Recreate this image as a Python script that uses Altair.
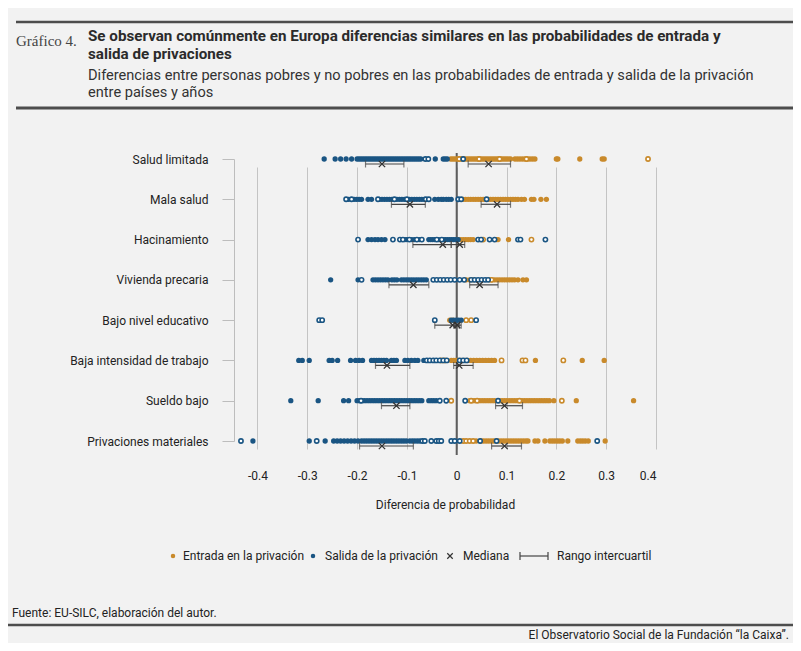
import altair as alt
import pandas as pd

# colores
NARANJA = '#c98a2b'
AZUL = '#1a5583'
FONDO = '#f2f2f2'
GRIS_OSCURO = '#4d4d4d'
FUENTE = 'Roboto'
FUENTE_TITULO = 'Roboto'

FILAS = ['Salud limitada', 'Mala salud', 'Hacinamiento', 'Vivienda precaria',
         'Bajo nivel educativo', 'Baja intensidad de trabajo', 'Sueldo bajo',
         'Privaciones materiales']

# Salida de la privación (puntos llenos = significativos, abiertos = no)
SALIDA_LLENO = {
    'Salud limitada': [-0.266, -0.244, -0.233, -0.222, -0.211, -0.200, -0.196, -0.192, -0.188, -0.184,
                       -0.180, -0.176, -0.172, -0.168, -0.164, -0.160, -0.156, -0.152, -0.148, -0.144,
                       -0.140, -0.136, -0.132, -0.128, -0.124, -0.120, -0.116, -0.112, -0.108, -0.104,
                       -0.100, -0.096, -0.092, -0.088, -0.084, -0.080, -0.076, -0.072, -0.043, -0.027,
                       -0.023, -0.019],
    'Mala salud': [-0.217, -0.206, -0.201, -0.196, -0.191, -0.178, -0.171, -0.155, -0.150, -0.145,
                   -0.140, -0.135, -0.130, -0.120, -0.115, -0.110, -0.105, -0.095, -0.090, -0.085,
                   -0.080, -0.075, -0.070, -0.065, -0.044, -0.037, -0.031, -0.027, -0.021, -0.016,
                   -0.011],
    'Hacinamiento': [-0.178, -0.171, -0.164, -0.158, -0.151, -0.144, -0.104, -0.100, -0.090, -0.085,
                     -0.075, -0.056, -0.052, -0.048, -0.044, -0.036, -0.026, -0.022, -0.018, -0.014,
                     -0.010, -0.006, -0.002, 0.003],
    'Vivienda precaria': [-0.253, -0.198, -0.168, -0.163, -0.158, -0.153, -0.148, -0.143, -0.138,
                          -0.130, -0.125, -0.120, -0.111, -0.106, -0.101, -0.096, -0.091, -0.086,
                          -0.081, -0.076, -0.071, -0.066, -0.061],
    'Bajo nivel educativo': [-0.011, -0.006, -0.001, 0.004, 0.009],
    'Baja intensidad de trabajo': [-0.317, -0.310, -0.296, -0.256, -0.250, -0.239, -0.213, -0.203,
                                   -0.196, -0.189, -0.171, -0.166, -0.161, -0.156, -0.151, -0.146,
                                   -0.141, -0.131, -0.126, -0.121, -0.104, -0.098, -0.091, -0.084,
                                   -0.078, -0.066],
    'Sueldo bajo': [-0.333, -0.278, -0.227, -0.217, -0.200, -0.195, -0.190, -0.185, -0.180, -0.175,
                    -0.170, -0.165, -0.160, -0.155, -0.150, -0.145, -0.140, -0.135, -0.130, -0.125,
                    -0.120, -0.115, -0.110, -0.105, -0.100, -0.095, -0.090, -0.085, -0.080, -0.075,
                    -0.070, -0.056, -0.051, -0.046, -0.041],
    'Privaciones materiales': [-0.409, -0.296, -0.264, -0.247, -0.240, -0.233, -0.226, -0.219, -0.212,
                               -0.205, -0.198, -0.191, -0.186, -0.181, -0.176, -0.171, -0.166, -0.161,
                               -0.156, -0.151, -0.146, -0.141, -0.136, -0.131, -0.126, -0.121, -0.116,
                               -0.111, -0.106, -0.101, -0.094, -0.089, -0.084, -0.079, -0.074],
}
SALIDA_ABIERTO = {
    'Salud limitada': [-0.063, -0.057, 0.013],
    'Mala salud': [-0.222, -0.211, -0.158, -0.125, -0.100, -0.062, -0.056, 0.003, 0.009, 0.060],
    'Hacinamiento': [-0.198, -0.128, -0.114, -0.108, -0.095, -0.080, -0.070, -0.040, -0.030, 0.043,
                     0.049, 0.066, 0.076, 0.123, 0.128, 0.178],
    'Vivienda precaria': [-0.191, -0.047, -0.040, -0.033, -0.026, -0.019, -0.012, -0.004, 0.006, 0.015,
                          0.029, 0.036, 0.043, 0.050, 0.057, 0.063],
    'Bajo nivel educativo': [-0.276, -0.270, -0.044, 0.039],
    'Baja intensidad de trabajo': [-0.060, -0.054, -0.047, -0.041, -0.034, -0.027, -0.020, 0.006,
                                   0.013, 0.020],
    'Sueldo bajo': [-0.192, -0.034, -0.021, 0.017, 0.083],
    'Privaciones materiales': [-0.433, -0.281, -0.069, -0.064, -0.051, -0.041, -0.036, -0.031, -0.011,
                               -0.004, 0.006, 0.047, 0.080, 0.282],
}

# Entrada en la privación
ENTRADA_LLENO = {
    'Salud limitada': [-0.012, -0.008, -0.004, 0.000, 0.004, 0.008, 0.012, 0.016, 0.020, 0.024, 0.028,
                       0.032, 0.036, 0.040, 0.044, 0.048, 0.052, 0.056, 0.060, 0.064, 0.068, 0.072,
                       0.076, 0.080, 0.084, 0.088, 0.092, 0.096, 0.100, 0.104, 0.108, 0.117, 0.122,
                       0.127, 0.132, 0.137, 0.142, 0.147, 0.152, 0.157, 0.200, 0.203, 0.247, 0.292,
                       0.296],
    'Mala salud': [0.013, 0.018, 0.023, 0.028, 0.033, 0.038, 0.043, 0.048, 0.053, 0.058, 0.063, 0.068,
                   0.073, 0.078, 0.083, 0.088, 0.093, 0.098, 0.103, 0.108, 0.113, 0.118, 0.123, 0.130,
                   0.136, 0.150, 0.155, 0.169, 0.180],
    'Hacinamiento': [0.003, 0.008, 0.013, 0.018, 0.023, 0.028, 0.033, 0.080, 0.083, 0.104],
    'Vivienda precaria': [0.019, 0.026, 0.033, 0.066, 0.071, 0.076, 0.081, 0.086, 0.091, 0.096, 0.101,
                          0.106, 0.111, 0.116, 0.123, 0.133, 0.140],
    'Bajo nivel educativo': [-0.014, -0.008],
    'Baja intensidad de trabajo': [-0.011, -0.006, -0.001, 0.004, 0.010, 0.016, 0.022, 0.028, 0.034,
                                   0.040, 0.046, 0.052, 0.058, 0.064, 0.070, 0.076, 0.158, 0.252,
                                   0.296],
    'Sueldo bajo': [0.026, 0.031, 0.036, 0.046, 0.051, 0.056, 0.061, 0.066, 0.071, 0.076, 0.086, 0.091,
                    0.096, 0.101, 0.106, 0.111, 0.116, 0.121, 0.131, 0.136, 0.141, 0.146, 0.151, 0.156,
                    0.161, 0.166, 0.171, 0.176, 0.181, 0.186, 0.195, 0.240, 0.355],
    'Privaciones materiales': [0.039, 0.049, 0.054, 0.059, 0.064, 0.069, 0.074, 0.079, 0.084, 0.089,
                               0.094, 0.099, 0.104, 0.109, 0.114, 0.119, 0.124, 0.129, 0.134, 0.139,
                               0.143, 0.157, 0.163, 0.177, 0.187, 0.192, 0.197, 0.202, 0.207, 0.212,
                               0.223, 0.243, 0.248, 0.253, 0.258, 0.264, 0.298],
}
ENTRADA_ABIERTO = {
    'Salud limitada': [0.005, 0.045, 0.086, 0.140, 0.384],
    'Mala salud': [],
    'Hacinamiento': [0.053, 0.150],
    'Vivienda precaria': [0.070],
    'Bajo nivel educativo': [0.019, 0.029],
    'Baja intensidad de trabajo': [-0.031, -0.024, 0.090, 0.132, 0.138, 0.214],
    'Sueldo bajo': [-0.011, 0.029, 0.041, 0.126, 0.211],
    'Privaciones materiales': [0.013, 0.019, 0.026, 0.033],
}

# mediana y rango intercuartil (en el orden de FILAS)
SALIDA_MEDIANA = [-0.150, -0.094, -0.028, -0.087, -0.008, -0.140, -0.121, -0.150]
SALIDA_Q1 = [-0.183, -0.131, -0.088, -0.136, -0.044, -0.163, -0.151, -0.195]
SALIDA_Q3 = [-0.106, -0.063, -0.011, -0.056, 0.005, -0.094, -0.094, -0.087]
ENTRADA_MEDIANA = [0.064, 0.081, 0.006, 0.046, 0.001, 0.005, 0.096, 0.096]
ENTRADA_Q1 = [0.023, 0.049, -0.011, 0.026, -0.006, -0.006, 0.078, 0.070]
ENTRADA_Q3 = [0.108, 0.108, 0.016, 0.083, 0.009, 0.033, 0.132, 0.130]

TICKS = [-0.4, -0.3, -0.2, -0.1, 0, 0.1, 0.2, 0.3, 0.4]

TITULO = ['Se observan comúnmente en Europa diferencias similares en las probabilidades de entrada y',
          'salida de privaciones']
SUBTITULO = ['Diferencias entre personas pobres y no pobres en las probabilidades de entrada y salida de la privación',
             'entre países y años']

# --- tablas ---
registros = []
for serie, lleno, abierto in [('Entrada', ENTRADA_LLENO, ENTRADA_ABIERTO),
                              ('Salida', SALIDA_LLENO, SALIDA_ABIERTO)]:
    for fila in FILAS:
        for v in lleno[fila]:
            registros.append({'fila': fila, 'serie': serie, 'valor': v, 'abierto': False})
        for v in abierto[fila]:
            registros.append({'fila': fila, 'serie': serie, 'valor': v, 'abierto': True})
puntos = pd.DataFrame(registros)

resumen = pd.concat([
    pd.DataFrame({'fila': FILAS, 'serie': 'Salida', 'mediana': SALIDA_MEDIANA,
                  'q1': SALIDA_Q1, 'q3': SALIDA_Q3}),
    pd.DataFrame({'fila': FILAS, 'serie': 'Entrada', 'mediana': ENTRADA_MEDIANA,
                  'q1': ENTRADA_Q1, 'q3': ENTRADA_Q3}),
])

PW, PH = 422, 302
x_scale = alt.Scale(domain=[-0.447, 0.4], nice=False, zero=False)
y_scale = alt.Scale(type='point', domain=FILAS, range=[6, 288], padding=0)

X = alt.X('valor:Q', scale=x_scale, axis=alt.Axis(
    values=TICKS, grid=True, gridColor='#c4c4c4', gridWidth=1, domain=False, ticks=False,
    labelPadding=15, labelFontSize=12, labelFont=FUENTE, labelColor='#222',
    labelExpr="(datum.value < -0.0001 ? '-' : '') + (abs(datum.value) < 0.0001 ? '0' : format(abs(datum.value), '.1f'))",
    title='Diferencia de probabilidad', titleFont=FUENTE, titleFontSize=12,
    titleFontWeight='normal', titleColor='#222', titlePadding=18))
Y = alt.Y('fila:N', scale=y_scale, sort=FILAS, axis=alt.Axis(
    title=None, domain=True, domainColor='#bdbdbd', ticks=True, tickColor='#bdbdbd',
    tickSize=12, labelPadding=14, labelFontSize=12, labelFont=FUENTE, labelColor='#222',
    grid=False))

base = alt.Chart(puntos)
cero = alt.Chart(alt.Data(values=[{'valor': 0}])).mark_rule(
    color='#5e5e5e', strokeWidth=2).encode(x=alt.X('valor:Q', scale=x_scale))


def capa_puntos(serie, color, abierto):
    filtro = f"datum.serie == '{serie}' && datum.abierto == {str(abierto).lower()}"
    if abierto:
        marca = base.mark_point(shape='circle', filled=False, fill='white', fillOpacity=1,
                                stroke=color, strokeWidth=1.6, size=18, opacity=1)
    else:
        marca = base.mark_point(shape='circle', filled=True, color=color, size=28, opacity=1)
    return marca.encode(x=X, y=Y).transform_filter(filtro)


def capa_resumen(serie):
    r = alt.Chart(resumen).transform_filter(f"datum.serie == '{serie}'")
    yy = alt.Y('fila:N', scale=y_scale, sort=FILAS)
    linea = r.mark_rule(color='#444', strokeWidth=1.2, yOffset=5).encode(
        x=alt.X('q1:Q', scale=x_scale), x2='q3:Q', y=yy)
    tope1 = r.mark_tick(color='#444', thickness=1.2, size=7, yOffset=5).encode(
        x=alt.X('q1:Q', scale=x_scale), y=yy)
    tope3 = r.mark_tick(color='#444', thickness=1.2, size=7, yOffset=5).encode(
        x=alt.X('q3:Q', scale=x_scale), y=yy)
    med = r.mark_point(shape='M-1,-1L1,1M-1,1L1,-1', filled=False, color='#333', strokeWidth=1.3,
                       size=40, yOffset=5, opacity=1).encode(
        x=alt.X('mediana:Q', scale=x_scale), y=yy)
    return [linea, tope1, tope3, med]


UNO = alt.Data(values=[{}])


def texto(t, x, y, size=12, font=FUENTE, weight='normal', color='#222', align='left',
          baseline='middle', alto=16):
    return alt.Chart(UNO).mark_text(text=t, fontSize=size, font=font, fontWeight=weight,
                                    color=color, align=align, baseline=baseline,
                                    lineHeight=alto).encode(
        x=alt.value(x), y=alt.value(y))


def linea(x1, x2, y, w=2.5, color=GRIS_OSCURO):
    return alt.Chart(UNO).mark_rule(color=color, strokeWidth=w).encode(
        x=alt.value(x1), x2=alt.value(x2), y=alt.value(y))


def vlinea(x, y1, y2, w=1.2, color='#444'):
    return alt.Chart(UNO).mark_rule(color=color, strokeWidth=w).encode(
        x=alt.value(x), y=alt.value(y1), y2=alt.value(y2))


cabecera = [
    linea(-218, 559, -131, 2.5),
    texto('Gráfico 4.', -218, -112, 15, 'Liberation Serif', 'normal', '#444'),
    texto(TITULO, -146, -124, 15.2, FUENTE_TITULO, 'bold', '#2b2b2b', baseline='top', alto=18),
    texto(SUBTITULO, -146, -85, 14.6, FUENTE_TITULO, 'normal', '#333', baseline='top', alto=17),
    linea(-218, 559, -45, 3),
]

leyenda = [
    alt.Chart(UNO).mark_point(shape='circle', filled=True, color=NARANJA, size=20, opacity=1).encode(
        x=alt.value(-61), y=alt.value(403)),
    texto('Entrada en la privación', -51, 403),
    alt.Chart(UNO).mark_point(shape='circle', filled=True, color=AZUL, size=20, opacity=1).encode(
        x=alt.value(79), y=alt.value(403)),
    texto('Salida de la privación', 91, 403),
    alt.Chart(UNO).mark_point(shape='M-1,-1L1,1M-1,1L1,-1', filled=False, color='#333',
                              strokeWidth=1.2, size=30, opacity=1).encode(
        x=alt.value(216), y=alt.value(403)),
    texto('Mediana', 229, 403),
    linea(286, 314, 403, 1.2, '#444'),
    vlinea(286, 399, 407),
    vlinea(314, 399, 407),
    texto('Rango intercuartil', 323, 403),
]

pie = [
    texto('Fuente: EU-SILC, elaboración del autor.', -222, 460, 12, FUENTE, 'normal', '#222'),
    linea(-226, 559, 472, 2.5),
    texto('El Observatorio Social de la Fundación “la Caixa”.', 555, 482, 12, FUENTE,
          'normal', '#222', 'right'),
]

capas = ([cero,
          capa_puntos('Entrada', NARANJA, False), capa_puntos('Entrada', NARANJA, True),
          capa_puntos('Salida', AZUL, False), capa_puntos('Salida', AZUL, True)]
         + capa_resumen('Salida') + capa_resumen('Entrada') + cabecera + leyenda + pie)

chart = alt.layer(*capas).properties(
    width=PW, height=PH,
    autosize='none',
    padding={'left': 226, 'top': 145, 'right': 137, 'bottom': 188},
    background=FONDO,
).configure_view(stroke=None).resolve_scale(x='shared', y='shared')

chart.save('out.html', embed_options={'renderer': 'svg', 'actions': False})
